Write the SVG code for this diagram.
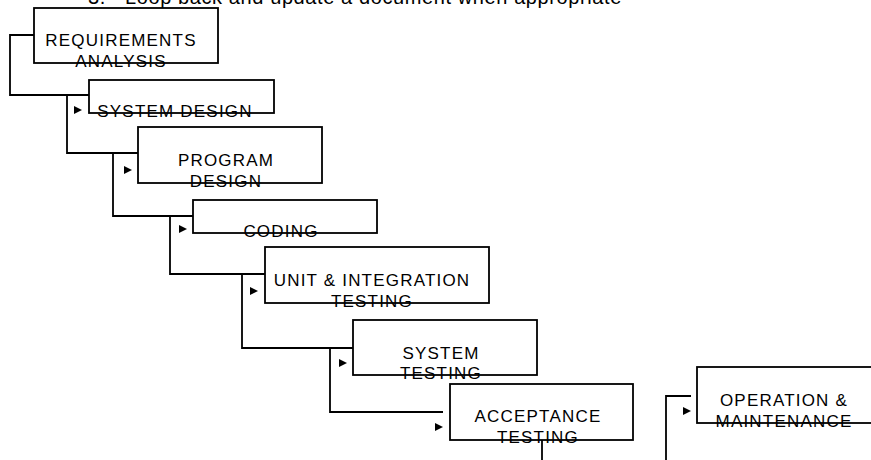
<svg xmlns="http://www.w3.org/2000/svg" xmlns:xlink="http://www.w3.org/1999/xlink" width="871" height="460" viewBox="0 0 871 460">
<style>
.box{fill:#ffffff;stroke:#000000;stroke-width:1.8}
.lbl{font-family:"Liberation Sans",Arial,sans-serif;font-size:17px;letter-spacing:1.2px;fill:#000000;text-anchor:middle}
.top{font-family:"Liberation Sans",Arial,sans-serif;font-size:20px;letter-spacing:0.6px;fill:#000000}
.wire{fill:none;stroke:#000000;stroke-width:1.8}
.tri{fill:#000000}
</style>
<defs>
<path id="tri" d="M0,-4 L8,0 L0,4 Z"/>
</defs>
<text class="top" x="88" y="4">3.</text>
<text class="top" x="125" y="4">Loop back and update a document when appropriate</text>
<g id="connectors">
<path class="wire" d="M34,35 H10 V95 H89"/>
<path class="wire" d="M67,95 V153 H138"/>
<path class="wire" d="M113,153 V216 H193"/>
<path class="wire" d="M170,216 V274 H265"/>
<path class="wire" d="M242,274 V348 H353"/>
<path class="wire" d="M330,348 V412 H443"/>
<path class="wire" d="M542,440 V460"/>
<path class="wire" d="M666,460 V396 H691"/>
<use class="tri" xlink:href="#tri" x="74" y="110"/>
<use class="tri" xlink:href="#tri" x="124" y="170"/>
<use class="tri" xlink:href="#tri" x="179" y="229"/>
<use class="tri" xlink:href="#tri" x="250" y="291"/>
<use class="tri" xlink:href="#tri" x="339" y="363"/>
<use class="tri" xlink:href="#tri" x="435" y="427"/>
<use class="tri" xlink:href="#tri" x="683" y="411"/>
</g>
<g id="requirements-analysis">
<rect class="box" x="34" y="8" width="184" height="55"/>
<text class="lbl" x="121" y="46">REQUIREMENTS</text>
<text class="lbl" x="121" y="67">ANALYSIS</text>
</g>
<g id="system-design">
<rect class="box" x="89" y="80" width="185" height="33"/>
<text class="lbl" x="175" y="117">SYSTEM DESIGN</text>
</g>
<g id="program-design">
<rect class="box" x="138" y="127" width="184" height="56"/>
<text class="lbl" x="226" y="166">PROGRAM</text>
<text class="lbl" x="226" y="187">DESIGN</text>
</g>
<g id="coding">
<rect class="box" x="193" y="200" width="184" height="33"/>
<text class="lbl" x="281" y="237">CODING</text>
</g>
<g id="unit-integration-testing">
<rect class="box" x="265" y="247" width="224" height="56"/>
<text class="lbl" x="372" y="286">UNIT &amp; INTEGRATION</text>
<text class="lbl" x="372" y="307">TESTING</text>
</g>
<g id="system-testing">
<rect class="box" x="353" y="320" width="184" height="55"/>
<text class="lbl" x="441" y="359">SYSTEM</text>
<text class="lbl" x="441" y="379">TESTING</text>
</g>
<g id="acceptance-testing">
<rect class="box" x="450" y="384" width="183" height="56"/>
<text class="lbl" x="538" y="422">ACCEPTANCE</text>
<text class="lbl" x="538" y="443">TESTING</text>
</g>
<g id="operation-maintenance">
<rect class="box" x="697" y="367" width="184" height="56"/>
<text class="lbl" x="784" y="406">OPERATION &amp;</text>
<text class="lbl" x="784" y="427">MAINTENANCE</text>
</g>
</svg>
